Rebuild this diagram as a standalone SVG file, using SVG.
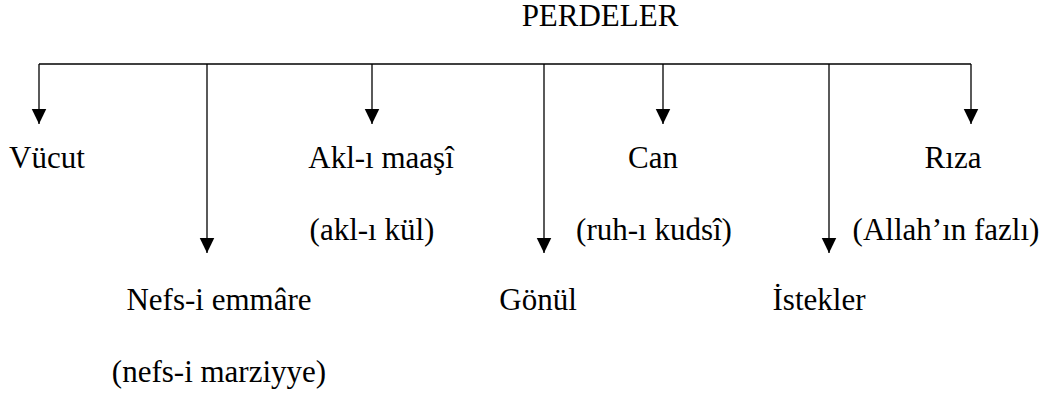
<svg xmlns="http://www.w3.org/2000/svg" width="1056" height="394" viewBox="0 0 1056 394">
<style>
text{font-family:'Liberation Serif','Times New Roman','DejaVu Serif',serif;font-size:31px;fill:#000;text-anchor:middle}
.c line{stroke:#000;stroke-width:1.3;fill:none}
</style>
<defs>
<marker id="ah" markerUnits="userSpaceOnUse" markerWidth="16" markerHeight="16" viewBox="0 -8 16 16" refX="15" refY="0" orient="auto">
<path d="M0,-7.25 L15,0 L0,7.25 z" fill="#000"/>
</marker>
</defs>
<rect width="1056" height="394" fill="#fff"/>
<g id="connectors" class="c">
<line x1="39" y1="64" x2="971" y2="64"/>
<line x1="39" y1="64" x2="39" y2="124" marker-end="url(#ah)"/>
<line x1="207" y1="64" x2="207" y2="253" marker-end="url(#ah)"/>
<line x1="372" y1="64" x2="372" y2="124" marker-end="url(#ah)"/>
<line x1="544" y1="64" x2="544" y2="253" marker-end="url(#ah)"/>
<line x1="663" y1="64" x2="663" y2="124" marker-end="url(#ah)"/>
<line x1="829" y1="64" x2="829" y2="253" marker-end="url(#ah)"/>
<line x1="971" y1="64" x2="971" y2="124" marker-end="url(#ah)"/>
</g>
<g id="perdeler"><text x="600" y="26" font-family="Liberation Serif">PERDELER</text></g>
<g id="vucut"><text x="47" y="168">Vücut</text></g>
<g id="nefs"><text x="219" y="310">Nefs-i emmâre</text><text x="219" y="382">(nefs-i marziyye)</text></g>
<g id="akl"><text x="381" y="168">Akl-ı maaşî</text><text x="372" y="240">(akl-ı kül)</text></g>
<g id="gonul"><text x="538" y="310">Gönül</text></g>
<g id="can"><text x="653" y="168">Can</text><text x="654" y="240">(ruh-ı kudsî)</text></g>
<g id="istekler"><text x="819" y="310">İstekler</text></g>
<g id="riza"><text x="953" y="168">Rıza</text><text x="946" y="240">(Allah’ın fazlı)</text></g>
</svg>
